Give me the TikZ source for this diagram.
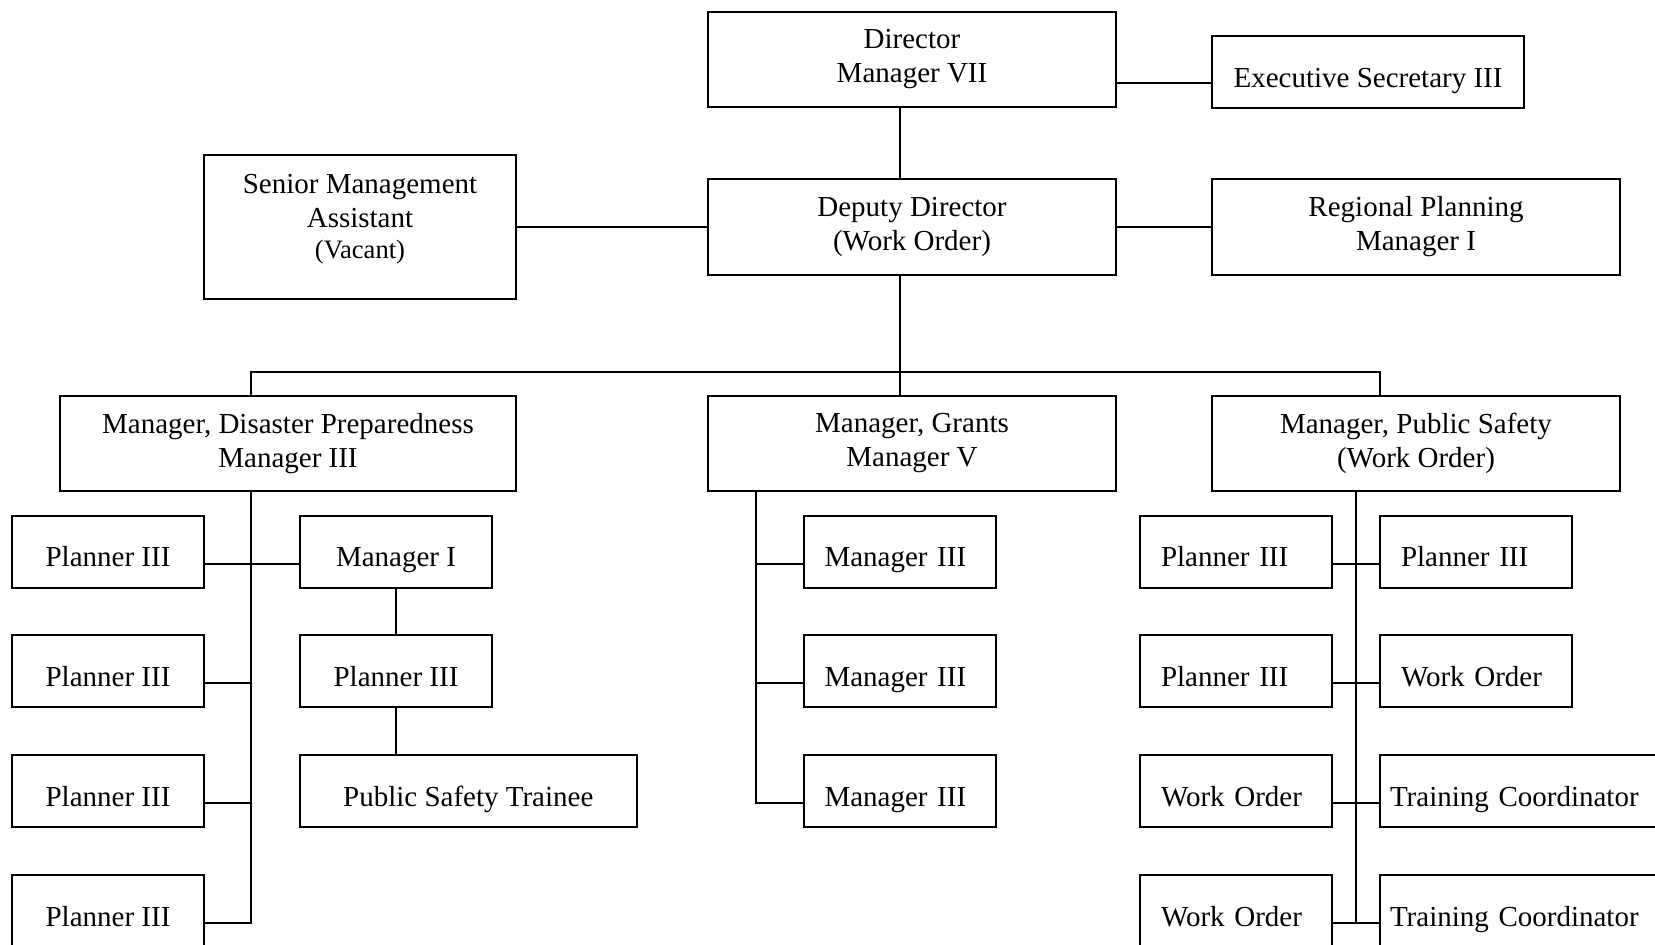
\documentclass[tikz,border=0pt]{standalone}
\usepackage{fontspec}
\setmainfont{Liberation Serif}
\newcommand\fsz{\fontsize{14.5}{17}\selectfont}
\newcommand\vsz{\fontsize{13.3}{15}\selectfont}
\begin{document}
\begin{tikzpicture}[x=0.5pt,y=-0.5pt,
  box/.style={draw, line width=1pt, inner sep=0pt, align=center, font=\fsz},
  one/.style={box, text height=15pt, text depth=0pt},
  lbox/.style={draw, line width=1pt, inner ysep=0pt, inner xsep=10.5pt, text width=75pt,
    align=left, minimum height=36pt, text height=15pt, text depth=0pt, font=\fsz},
  wbox/.style={lbox, inner xsep=5pt, text width=135pt},
  link/.style={line width=1pt}]
\useasboundingbox (0,0) rectangle (1655,944);
\clip (0,0) rectangle (1655,944);

% top levels
\node[box, minimum width=204pt, minimum height=47.5pt] (dir) at (912,59) {Director\\Manager VII};
\node[one, minimum width=156pt, minimum height=36pt] (exec) at (1368,72) {Executive Secretary III};
\node[box, minimum width=204pt, minimum height=48pt] (dep) at (912,227) {Deputy Director\\(Work Order)};
\node[box, minimum width=204pt, minimum height=48pt] (reg) at (1416,227) {Regional Planning\\Manager I};
\node[box, minimum width=156pt, minimum height=72pt] (sma) at (360,227)
  {Senior Management\\Assistant\\[-1.6pt]{\vsz (Vacant)}\\[-6.5pt]\mbox{}};

% managers
\node[box, minimum width=228pt, minimum height=47.5pt] (mdp) at (288,443.5) {Manager, Disaster Preparedness\\Manager III};
\node[box, minimum width=204pt, minimum height=47.5pt] (mg) at (912,443.5) {Manager, Grants\\Manager V};
\node[box, minimum width=204pt, minimum height=47.5pt] (mps) at (1416,443.5) {Manager, Public Safety\\(Work Order)};

% left column
\node[one, minimum width=96pt, minimum height=36pt] (p1) at (108,551.5) {Planner III};
\node[one, minimum width=96pt, minimum height=36pt] (p2) at (108,671.3) {Planner III};
\node[one, minimum width=96pt, minimum height=36pt] (p3) at (108,791.3) {Planner III};
\node[one, minimum width=96pt, minimum height=36pt] (p4) at (108,911) {Planner III};
\node[one, minimum width=96pt, minimum height=36pt] (m1) at (396,551.5) {Manager I};
\node[one, minimum width=96pt, minimum height=36pt] (p5) at (396,671.3) {Planner III};
\node[one, minimum width=168.25pt, minimum height=36pt] (pst) at (468.25,791.3) {Public Safety Trainee};

% middle column
\node[lbox] (g1) at (899.5,551.5) {Manager III};
\node[lbox] (g2) at (899.5,671.3) {Manager III};
\node[lbox] (g3) at (899.5,791.3) {Manager III};

% right column
\node[lbox] (ra1) at (1236,551.5) {Planner III};
\node[lbox] (ra2) at (1236,671.3) {Planner III};
\node[lbox] (ra3) at (1236,791.3) {Work Order};
\node[lbox] (ra4) at (1236,911) {Work Order};
\node[lbox] (rb1) at (1476,551.5) {Planner III};
\node[lbox] (rb2) at (1476,671.3) {Work Order};
\node[wbox] (rb3) at (1525,791.3) {Training Coordinator};
\node[wbox] (rb4) at (1525,911) {Training Coordinator};

% helper coordinates
\coordinate (cx) at (899.5,0);
\coordinate (ey) at (0,83);
\coordinate (bus) at (899.5,371.5);
\coordinate (dl) at (251,0);
\coordinate (dr) at (1380,0);
\coordinate (gx) at (756,0);
\coordinate (rx) at (1356,0);

% connectors top
\draw[link] (dir.south -| cx) -- (dep.north -| cx);
\draw[link] (dir.east |- ey) -- (exec.west |- ey);
\draw[link] (sma.east) -- (dep.west);
\draw[link] (dep.east) -- (reg.west);
\draw[link] (dep.south -| cx) -- (mg.north -| cx);
\draw[link] (mdp.north -| dl) |- (bus) -| (mps.north -| dr);

% left
\draw[link] (mdp.south -| dl) |- ([yshift=-6pt]p4.east);
\draw[link] ([yshift=-6pt]p1.east) -- ([yshift=-6pt]m1.west);
\draw[link] ([yshift=-6pt]p2.east) -- ([yshift=-6pt]p2.east -| dl);
\draw[link] ([yshift=-6pt]p3.east) -- ([yshift=-6pt]p3.east -| dl);
\draw[link] (m1) -- (p5);
\draw[link] (p5.south) -- (pst.north -| p5.south);

% middle
\draw[link] (mg.south -| gx) |- ([yshift=-6pt]g3.west);
\draw[link] ([yshift=-6pt]g1.west) -- ([yshift=-6pt]g1.west -| gx);
\draw[link] ([yshift=-6pt]g2.west) -- ([yshift=-6pt]g2.west -| gx);

% right
\draw[link] (mps.south -| rx) -- ([yshift=-6pt]ra4.east -| rx);
\draw[link] ([yshift=-6pt]ra1.east) -- ([yshift=-6pt]rb1.west);
\draw[link] ([yshift=-6pt]ra2.east) -- ([yshift=-6pt]rb2.west);
\draw[link] ([yshift=-6pt]ra3.east) -- ([yshift=-6pt]rb3.west);
\draw[link] ([yshift=-6pt]ra4.east) -- ([yshift=-6pt]rb4.west);
\end{tikzpicture}
\end{document}
